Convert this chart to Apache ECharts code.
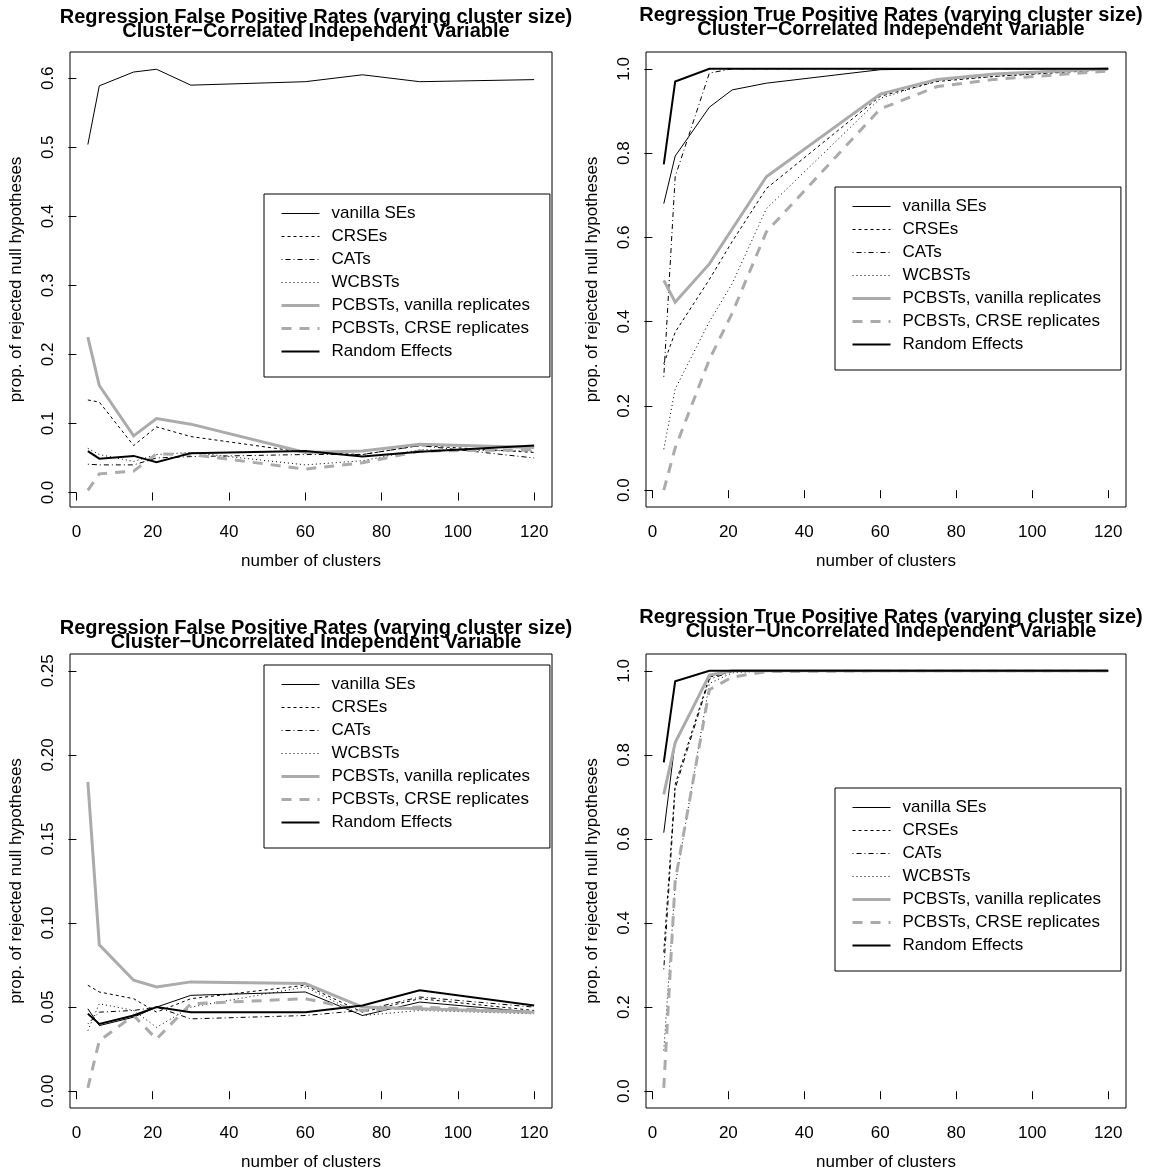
<!DOCTYPE html>
<html>
<head>
<meta charset="utf-8">
<script src="https://cdn.jsdelivr.net/npm/echarts@6/dist/echarts.min.js"></script>
<style>
html,body{margin:0;padding:0;background:#fff;}
#chart{width:1149px;height:1173px;}
</style>
</head>
<body>
<div id="chart"></div>
<script>
// ---------------- data ----------------
const clusters = [3, 6, 15, 21, 30, 60, 75, 90, 120];
const seriesNames = ["vanilla SEs", "CRSEs", "CATs", "WCBSTs",
  "PCBSTs, vanilla replicates", "PCBSTs, CRSE replicates", "Random Effects"];

// Panel 1: false positive, cluster-correlated
const fpCorrVanilla = [0.504, 0.589, 0.609, 0.613, 0.590, 0.595, 0.605, 0.595, 0.598];
const fpCorrCRSE    = [0.134, 0.131, 0.068, 0.095, 0.081, 0.058, 0.055, 0.068, 0.058];
const fpCorrCAT     = [0.041, 0.040, 0.040, 0.050, 0.052, 0.055, 0.055, 0.068, 0.050];
const fpCorrWCBST   = [0.064, 0.055, 0.045, 0.055, 0.058, 0.040, 0.046, 0.062, 0.060];
const fpCorrPCBV    = [0.225, 0.155, 0.082, 0.107, 0.099, 0.058, 0.060, 0.070, 0.065];
const fpCorrPCBC    = [0.003, 0.027, 0.031, 0.056, 0.055, 0.034, 0.043, 0.060, 0.062];
const fpCorrRE      = [0.060, 0.049, 0.053, 0.044, 0.057, 0.060, 0.052, 0.059, 0.068];

// Panel 2: true positive, cluster-correlated
const tpCorrVanilla = [0.680, 0.793, 0.909, 0.950, 0.966, 0.998, 1.000, 1.000, 1.000];
const tpCorrCRSE    = [0.300, 0.375, 0.500, 0.590, 0.716, 0.935, 0.970, 0.982, 0.998];
const tpCorrCAT     = [0.269, 0.744, 0.990, 1.000, 1.000, 1.000, 1.000, 1.000, 1.000];
const tpCorrWCBST   = [0.097, 0.240, 0.400, 0.490, 0.668, 0.930, 0.972, 0.982, 1.000];
const tpCorrPCBV    = [0.498, 0.446, 0.537, 0.620, 0.744, 0.940, 0.975, 0.988, 1.000];
const tpCorrPCBC    = [0.000, 0.100, 0.310, 0.420, 0.613, 0.905, 0.958, 0.975, 0.995];
const tpCorrRE      = [0.773, 0.970, 1.000, 1.000, 1.000, 1.000, 1.000, 1.000, 1.000];

// Panel 3: false positive, cluster-uncorrelated
const fpUncVanilla  = [0.049, 0.039, 0.044, 0.050, 0.057, 0.059, 0.045, 0.053, 0.047];
const fpUncCRSE     = [0.063, 0.059, 0.055, 0.047, 0.055, 0.063, 0.047, 0.055, 0.048];
const fpUncCAT      = [0.040, 0.047, 0.048, 0.050, 0.043, 0.045, 0.048, 0.056, 0.050];
const fpUncWCBST    = [0.036, 0.052, 0.048, 0.038, 0.050, 0.062, 0.045, 0.048, 0.046];
const fpUncPCBV     = [0.184, 0.087, 0.066, 0.062, 0.065, 0.064, 0.050, 0.049, 0.047];
const fpUncPCBC     = [0.002, 0.030, 0.045, 0.031, 0.052, 0.055, 0.048, 0.050, 0.047];
const fpUncRE       = [0.046, 0.040, 0.045, 0.050, 0.047, 0.047, 0.051, 0.060, 0.051];

// Panel 4: true positive, cluster-uncorrelated
const tpUncVanilla  = [0.615, 0.833, 0.988, 1.000, 1.000, 1.000, 1.000, 1.000, 1.000];
const tpUncCRSE     = [0.330, 0.730, 0.985, 0.998, 1.000, 1.000, 1.000, 1.000, 1.000];
const tpUncCAT      = [0.290, 0.720, 0.980, 0.998, 1.000, 1.000, 1.000, 1.000, 1.000];
const tpUncWCBST    = [0.097, 0.490, 0.970, 0.995, 1.000, 1.000, 1.000, 1.000, 1.000];
const tpUncPCBV     = [0.706, 0.829, 0.990, 1.000, 1.000, 1.000, 1.000, 1.000, 1.000];
const tpUncPCBC     = [0.008, 0.500, 0.955, 0.985, 0.998, 1.000, 1.000, 1.000, 1.000];
const tpUncRE       = [0.782, 0.975, 1.000, 1.000, 1.000, 1.000, 1.000, 1.000, 1.000];

const xTicks = [0, 20, 40, 60, 80, 100, 120];
const yTicksFP1 = [0, 0.1, 0.2, 0.3, 0.4, 0.5, 0.6];
const yTicksTP  = [0, 0.2, 0.4, 0.6, 0.8, 1.0];
const yTicksFP2 = [0, 0.05, 0.10, 0.15, 0.20, 0.25];

const titleLine1FP = "Regression False Positive Rates (varying cluster size)";
const titleLine1TP = "Regression True Positive Rates (varying cluster size)";
const titleLine2C  = "Cluster\u2212Correlated Independent Variable";
const titleLine2U  = "Cluster\u2212Uncorrelated Independent Variable";
const xName = "number of clusters";
const yName = "prop. of rejected null hypotheses";

// ---------------- styles ----------------
const FONT = '"Liberation Sans", Arial, Helvetica, sans-serif';
const GRAY = '#ababab';
const styles = [
  {color: '#000', width: 1, type: 'solid'},
  {color: '#000', width: 1, type: [3, 3]},
  {color: '#000', width: 1, type: [1, 3, 5, 3]},
  {color: '#000', width: 1, type: [1, 3]},
  {color: GRAY, width: 3, type: 'solid'},
  {color: GRAY, width: 3, type: [10, 8]},
  {color: '#000', width: 2, type: 'solid'}
];

const panels = [
  {grid: {left: 70, top: 52, width: 482, height: 455},
   yMin: -0.021, yMax: 0.638, yTicks: yTicksFP1, dec: 1,
   data: [fpCorrVanilla, fpCorrCRSE, fpCorrCAT, fpCorrWCBST, fpCorrPCBV, fpCorrPCBC, fpCorrRE],
   title: titleLine1FP + "\n" + titleLine2C, titleTop: 5,
   legend: {left: 264, top: 194}},
  {grid: {left: 646, top: 52, width: 480, height: 455},
   yMin: -0.04, yMax: 1.04, yTicks: yTicksTP, dec: 1,
   data: [tpCorrVanilla, tpCorrCRSE, tpCorrCAT, tpCorrWCBST, tpCorrPCBV, tpCorrPCBC, tpCorrRE],
   title: titleLine1TP + "\n" + titleLine2C, titleTop: 3,
   legend: {left: 835, top: 187}},
  {grid: {left: 70, top: 654, width: 482, height: 454},
   yMin: -0.01, yMax: 0.26, yTicks: yTicksFP2, dec: 2,
   data: [fpUncVanilla, fpUncCRSE, fpUncCAT, fpUncWCBST, fpUncPCBV, fpUncPCBC, fpUncRE],
   title: titleLine1FP + "\n" + titleLine2U, titleTop: 616,
   legend: {left: 264, top: 665}},
  {grid: {left: 646, top: 654, width: 480, height: 454},
   yMin: -0.04, yMax: 1.04, yTicks: yTicksTP, dec: 1,
   data: [tpUncVanilla, tpUncCRSE, tpUncCAT, tpUncWCBST, tpUncPCBV, tpUncPCBC, tpUncRE],
   title: titleLine1TP + "\n" + titleLine2U, titleTop: 605,
   legend: {left: 835, top: 788}}
];

const option = {
  animation: false,
  backgroundColor: '#fff',
  title: [], grid: [], xAxis: [], yAxis: [], legend: [], series: []
};

panels.forEach((p, i) => {
  option.grid.push(Object.assign({show: true, borderColor: '#000', borderWidth: 1,
    backgroundColor: 'transparent', containLabel: false}, p.grid));
  option.title.push({
    text: p.title,
    left: p.grid.left + p.grid.width / 2,
    top: p.titleTop,
    textAlign: 'center',
    textStyle: {fontFamily: FONT, fontWeight: 'bold', fontSize: 20, lineHeight: 14, color: '#000'}
  });
  option.xAxis.push({
    type: 'value', gridIndex: i, min: -1.68, max: 124.68,
    name: xName, nameLocation: 'middle', nameGap: 46,
    nameTextStyle: {fontFamily: FONT, fontSize: 17, color: '#000'},
    splitLine: {show: false},
    axisLine: {show: false},
    axisTick: {show: true, inside: false, length: 8, customValues: xTicks,
      lineStyle: {color: '#000', width: 1}},
    axisLabel: {show: true, customValues: xTicks, margin: 17,
      fontFamily: FONT, fontSize: 17, color: '#000',
      formatter: v => String(Math.round(v))}
  });
  option.yAxis.push({
    type: 'value', gridIndex: i, min: p.yMin, max: p.yMax,
    name: yName, nameLocation: 'middle', nameGap: 45, nameRotate: 90,
    nameTextStyle: {fontFamily: FONT, fontSize: 17, color: '#000'},
    splitLine: {show: false},
    axisLine: {show: false},
    axisTick: {show: true, inside: false, length: 8, customValues: p.yTicks,
      lineStyle: {color: '#000', width: 1}},
    axisLabel: {show: true, customValues: p.yTicks, rotate: 90, margin: 13,
      fontFamily: FONT, fontSize: 17, color: '#000',
      formatter: v => Number(v).toFixed(p.dec)}
  });
  option.legend.push({
    show: true, orient: 'vertical', left: p.legend.left, top: p.legend.top,
    data: seriesNames.map((n, k) => ({
      name: n,
      lineStyle: {width: styles[k].width, type: styles[k].type, color: styles[k].color}
    })),
    borderColor: '#000', borderWidth: 1, borderRadius: 0,
    padding: [11, 20, 17, 16],
    itemWidth: 38, itemHeight: 17, itemGap: 6,
    selectedMode: false,
    itemStyle: {opacity: 0},
    textStyle: {fontFamily: FONT, fontSize: 17, color: '#000', lineHeight: 17, padding: [0, 0, 0, 7]}
  });
  p.data.forEach((vals, k) => {
    const st = styles[k];
    option.series.push({
      name: seriesNames[k], type: 'line',
      xAxisIndex: i, yAxisIndex: i,
      data: clusters.map((c, j) => [c, vals[j]]),
      symbol: 'none', showSymbol: false, smooth: false,
      color: st.color,
      lineStyle: {color: st.color, width: st.width, type: st.type, cap: 'butt', join: 'miter'},
      itemStyle: {color: st.color},
      emphasis: {disabled: true},
      z: 2 + k
    });
  });
});

const chart = echarts.init(document.getElementById('chart'), null, {renderer: 'canvas'});
chart.setOption(option);
</script>
</body>
</html>
